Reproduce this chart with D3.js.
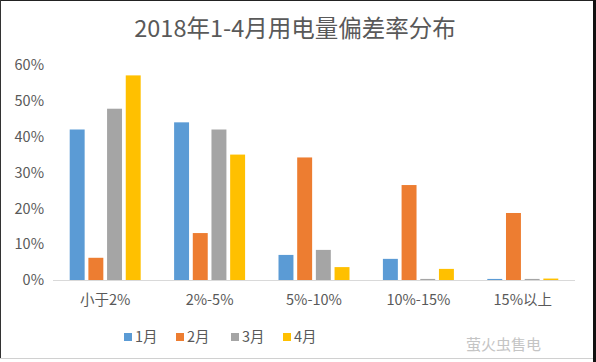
<!DOCTYPE html>
<html>
<head>
<meta charset="utf-8">
<script src="https://cdn.jsdelivr.net/npm/d3@7"></script>
<style>
  body { margin: 0; background: #fff; }
  svg { display: block; font-family: "Noto Sans CJK SC", "Microsoft YaHei", sans-serif; }
</style>
</head>
<body>
<div id="vis"></div>
<script>
// datos
const categorias = ["小于2%", "2%-5%", "5%-10%", "10%-15%", "15%以上"];
const meses = ["1月", "2月", "3月", "4月"];
const colores = ["#5b9bd5", "#ed7d31", "#a5a5a5", "#ffc000"];
const ene = [42.0, 44.0, 7.0, 5.9, 0.3];
const feb = [6.2, 13.1, 34.2, 26.5, 18.7];
const mar = [47.8, 42.0, 8.4, 0.3, 0.3];
const abr = [57.1, 35.0, 3.6, 3.1, 0.4];
const yTicks = [0, 10, 20, 30, 40, 50, 60];

const series = [ene, feb, mar, abr];
const width = 596, height = 362;

const svg = d3.select("#vis").append("svg")
  .attr("width", width)
  .attr("height", height);

// marco
svg.append("rect").attr("x", 0).attr("y", 0).attr("width", width).attr("height", height).attr("fill", "#fff");
svg.append("line").attr("x1", 0).attr("x2", 593).attr("y1", 0.5).attr("y2", 0.5).attr("stroke", "#222");
svg.append("line").attr("x1", 0.5).attr("x2", 0.5).attr("y1", 0).attr("y2", 358).attr("stroke", "#333");
svg.append("rect").attr("x", 593).attr("y", 0).attr("width", 3).attr("height", height).attr("fill", "#111");
svg.append("line").attr("x1", 0).attr("x2", 593).attr("y1", 358.5).attr("y2", 358.5).attr("stroke", "#d0d0d0");

// título
svg.append("text")
  .attr("x", 295).attr("y", 37)
  .attr("text-anchor", "middle")
  .attr("font-size", 23.5)
  .attr("fill", "#595959")
  .text("2018年1-4月用电量偏差率分布");

const x = d3.scaleBand().domain(categorias).range([53, 575]).paddingInner(0.32).paddingOuter(0.16);
const xSub = d3.scaleBand().domain(d3.range(meses.length)).range([0, x.bandwidth()]).paddingInner(0.2);
const y = d3.scaleLinear().domain([0, 60]).range([280, 65]);

// eje y (solo etiquetas)
svg.selectAll("text.ytick")
  .data(yTicks)
  .enter()
  .append("text")
  .attr("class", "ytick")
  .attr("x", 44)
  .attr("y", d => y(d))
  .attr("dy", "0.36em")
  .attr("text-anchor", "end")
  .attr("font-size", 14.5)
  .attr("fill", "#595959")
  .text(d => d + "%");

// barras
series.forEach((vals, s) => {
  svg.selectAll("rect.s" + s)
    .data(vals)
    .enter()
    .append("rect")
    .attr("class", "s" + s)
    .attr("x", (d, i) => x(categorias[i]) + xSub(s))
    .attr("y", d => y(d))
    .attr("width", xSub.bandwidth())
    .attr("height", d => y(0) - y(d))
    .attr("fill", colores[s]);
});

// línea base
svg.append("line")
  .attr("x1", 53).attr("x2", 575)
  .attr("y1", y(0) + 0.5).attr("y2", y(0) + 0.5)
  .attr("stroke", "#d9d9d9");

// etiquetas categorías
svg.selectAll("text.cat")
  .data(categorias)
  .enter()
  .append("text")
  .attr("class", "cat")
  .attr("x", d => x(d) + x.bandwidth() / 2)
  .attr("y", 300)
  .attr("dy", "0.36em")
  .attr("text-anchor", "middle")
  .attr("font-size", 14.5)
  .attr("fill", "#595959")
  .text(d => d);

// leyenda
const legX = [124, 176, 231, 283];
const leg = svg.selectAll("g.leg")
  .data(meses)
  .enter()
  .append("g")
  .attr("class", "leg")
  .attr("transform", (d, i) => `translate(${legX[i]},337)`);
leg.append("rect").attr("x", 0).attr("y", -4).attr("width", 8).attr("height", 8).attr("fill", (d, i) => colores[i]);
leg.append("text")
  .attr("x", 11).attr("dy", "0.36em")
  .attr("font-size", 14.5)
  .attr("fill", "#595959")
  .text(d => d);

// marca de agua
svg.append("text")
  .attr("x", 466).attr("y", 345)
  .attr("dy", "0.36em")
  .attr("font-size", 15)
  .attr("fill", "#c4c4c4")
  .text("萤火虫售电");
</script>
</body>
</html>
